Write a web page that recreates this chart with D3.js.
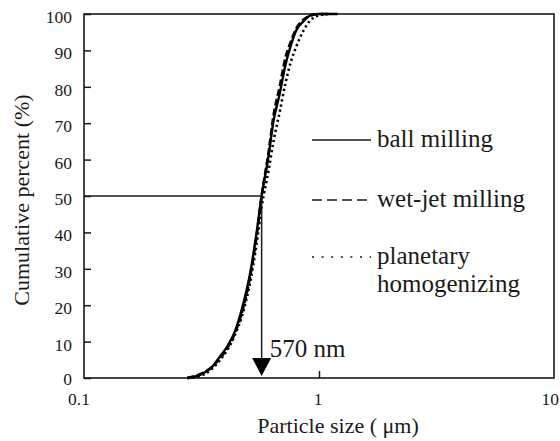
<!DOCTYPE html>
<html>
<head>
<meta charset="utf-8">
<script src="https://cdn.jsdelivr.net/npm/d3@7"></script>
<style>
  html, body { margin: 0; padding: 0; background: #fff; }
  svg { display: block; font-family: 'Liberation Serif', 'Times New Roman', serif; }
</style>
</head>
<body>
<svg id="chart" width="560" height="441"></svg>
<script>
'use strict';
// particle size (um) and cumulative percent
var sizes = [0.275, 0.31, 0.35, 0.38, 0.41, 0.44, 0.47, 0.51, 0.54, 0.57, 0.61, 0.64, 0.68, 0.72, 0.76, 0.80, 0.86, 0.92, 1.0, 1.1, 1.2];
var ballMilling = [0, 0.8, 3, 6, 9, 13, 19, 29, 39, 50, 61, 70.5, 78, 86, 91.5, 95.5, 98, 99.6, 100, 100, 100];
var wetJetMilling = [0, 1, 3, 5.5, 8.5, 12.5, 18, 28, 38, 50, 62, 72, 80, 88, 92.5, 96, 98.5, 99.6, 100, 100, null];
var planetaryHomogenizing = [0, 0.5, 2.5, 5, 8, 12, 17, 26.5, 36, 47, 57, 65, 73, 81, 87, 91, 95.5, 98.3, 99.6, 100, null];
var seriesNames = ['ball milling', 'wet-jet milling', 'planetary homogenizing'];
var yTicks = [0, 10, 20, 30, 40, 50, 60, 70, 80, 90, 100];
var xTicks = [0.1, 1, 10];
var xTickLabels = ['0.1', '1', '10'];
var d50 = 0.57;

var svg = d3.select('#chart');
var mLeft = 84, mRight = 554, mTop = 14, mBottom = 378;
var ink = '#1a1a1a';

var x = d3.scaleLog().domain([0.1, 10]).range([mLeft, mRight]);
var y = d3.scaleLinear().domain([0, 100]).range([mBottom, mTop]);

var series = [
  {name: seriesNames[0], values: ballMilling, dash: null, width: 2.4},
  {name: seriesNames[1], values: wetJetMilling, dash: '7,3', width: 2.6},
  {name: seriesNames[2], values: planetaryHomogenizing, dash: '2.2,3', width: 2.6}
];

// y axis ticks (inward) + labels
var yAxis = d3.axisRight(y).tickValues(yTicks).tickSize(7).tickFormat('');
svg.append('g').attr('transform', 'translate(' + mLeft + ',0)').call(yAxis)
  .call(g => g.select('.domain').remove())
  .selectAll('line').attr('stroke', ink).attr('stroke-width', 1.5);

svg.append('g').selectAll('text')
  .data(yTicks).enter().append('text')
  .attr('x', 72).attr('y', d => y(d) + (d === 0 ? 7 : 9))
  .attr('text-anchor', 'end')
  .style('font-size', '17.5px').style('fill', ink)
  .text(d => d);

// x axis tick at 1 (inward)
var xAxis = d3.axisTop(x).tickValues([1]).tickSize(7).tickFormat('');
svg.append('g').attr('transform', 'translate(0,' + mBottom + ')').call(xAxis)
  .call(g => g.select('.domain').remove())
  .selectAll('line').attr('stroke', ink).attr('stroke-width', 1.5);

svg.append('g').selectAll('text')
  .data(xTicks).enter().append('text')
  .attr('x', (d, i) => i === 2 ? 559 : x(d) + (i === 0 ? -5 : -1))
  .attr('y', 405)
  .attr('text-anchor', (d, i) => i === 2 ? 'end' : 'middle')
  .style('font-size', '17.5px').style('fill', ink)
  .text((d, i) => xTickLabels[i]);

// frame
svg.append('rect')
  .attr('x', mLeft).attr('y', mTop)
  .attr('width', mRight - mLeft).attr('height', mBottom - mTop)
  .attr('fill', 'none').attr('stroke', ink).attr('stroke-width', 1.6);

// axis titles
svg.append('text')
  .attr('x', 338).attr('y', 433)
  .attr('text-anchor', 'middle')
  .style('font-size', '22px').style('fill', ink)
  .text('Particle size ( \u03bcm)');

svg.append('text')
  .attr('transform', 'translate(29,200) rotate(-90)')
  .attr('text-anchor', 'middle')
  .style('font-size', '22px').style('fill', ink)
  .text('Cumulative percent (%)');

// curves
var line = d3.line()
  .defined(d => d[1] !== null)
  .x(d => x(d[0])).y(d => y(d[1]))
  .curve(d3.curveMonotoneX);

svg.append('g').selectAll('path')
  .data(series).enter().append('path')
  .attr('d', s => line(sizes.map((v, i) => [v, s.values[i]])))
  .attr('fill', 'none')
  .attr('stroke', '#000')
  .attr('stroke-width', s => s.width)
  .attr('stroke-dasharray', s => s.dash);

// d50 guide: horizontal line, vertical arrow, label
svg.append('line')
  .attr('x1', x(0.1)).attr('x2', x(d50))
  .attr('y1', y(50)).attr('y2', y(50))
  .attr('stroke', ink).attr('stroke-width', 1.5);

svg.append('line')
  .attr('x1', x(d50)).attr('x2', x(d50))
  .attr('y1', y(50)).attr('y2', y(5))
  .attr('stroke', ink).attr('stroke-width', 1.5);

var ax = x(d50), tipY = y(0) - 2;
svg.append('path')
  .attr('d', 'M' + (ax - 9.5) + ',' + (tipY - 18) + 'L' + (ax + 9.5) + ',' + (tipY - 18) + 'L' + ax + ',' + tipY + 'Z')
  .attr('fill', '#000');

svg.append('text')
  .attr('x', ax + 8).attr('y', 357)
  .style('font-size', '25px').style('fill', ink)
  .text('570 nm');

// legend
var legendY = [140, 200, 257];
var legendText = [['ball milling'], ['wet-jet milling'], ['planetary', 'homogenizing']];
var legendDash = [null, '10,5', '2,7.6'];
var lg = svg.append('g');
legendY.forEach(function(ly, i){
  lg.append('line')
    .attr('x1', 312).attr('x2', 371)
    .attr('y1', ly).attr('y2', ly)
    .attr('stroke', ink).attr('stroke-width', 1.6)
    .attr('stroke-dasharray', legendDash[i]);
  legendText[i].forEach(function(t, j){
    lg.append('text')
      .attr('x', 377).attr('y', ly + 7 + j * 28)
      .style('font-size', '25px').style('fill', ink)
      .text(t);
  });
});
</script>
</body>
</html>
